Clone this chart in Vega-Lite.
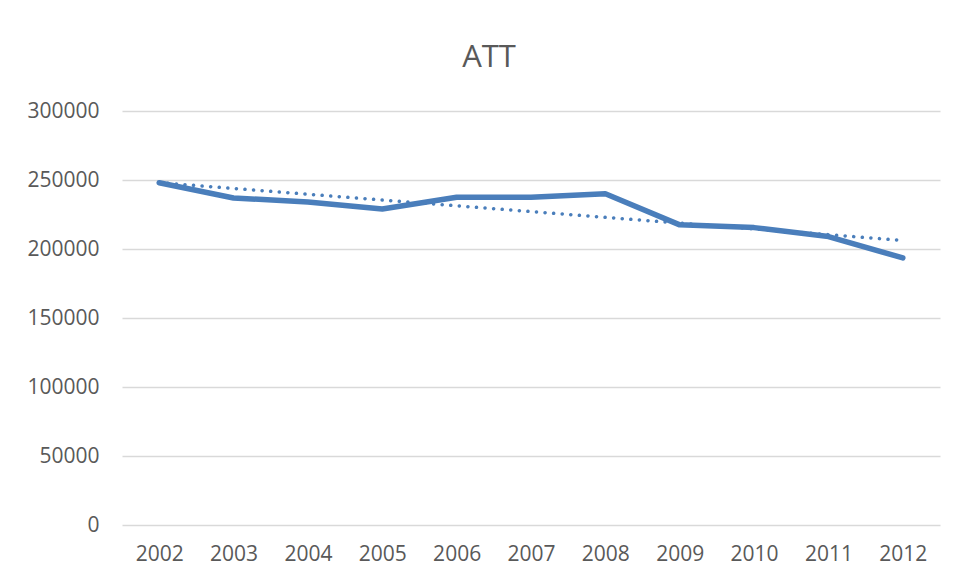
{
  "$schema": "https://vega.github.io/schema/vega-lite/v6.json",
  "width": 818,
  "height": 414,
  "autosize": {"type": "none"},
  "padding": {"left": 122, "top": 111, "right": 17, "bottom": 55},
  "background": "white",
  "title": {
    "text": "ATT",
    "fontSize": 31,
    "font": "Open Sans",
    "fontWeight": "normal",
    "color": "#595959",
    "anchor": "middle",
    "frame": "group",
    "baseline": "alphabetic",
    "offset": 2,
    "dx": -42
  },
  "data": {
    "values": [
      {"year": 2002, "value": 248000},
      {"year": 2003, "value": 237000},
      {"year": 2004, "value": 234000},
      {"year": 2005, "value": 229000},
      {"year": 2006, "value": 237500},
      {"year": 2007, "value": 237500},
      {"year": 2008, "value": 240000},
      {"year": 2009, "value": 217500},
      {"year": 2010, "value": 215500},
      {"year": 2011, "value": 209000},
      {"year": 2012, "value": 193500}
    ]
  },
  "encoding": {
    "x": {
      "field": "year",
      "type": "ordinal",
      "scale": {"type": "point", "padding": 0.5, "domain": [2002, 2003, 2004, 2005, 2006, 2007, 2008, 2009, 2010, 2011, 2012]},
      "axis": {
        "title": null,
        "labelAngle": 0,
        "domain": false,
        "ticks": false,
        "grid": false,
        "labelPadding": 18,
        "labelFontSize": 21,
        "labelFont": "Open Sans",
        "labelColor": "#595959"
      }
    },
    "y": {
      "field": "value",
      "type": "quantitative",
      "scale": {"domain": [0, 300000], "nice": false},
      "axis": {
        "title": null,
        "values": [0, 50000, 100000, 150000, 200000, 250000, 300000],
        "format": "d",
        "domain": false,
        "ticks": false,
        "grid": true,
        "gridColor": "#d9d9d9",
        "gridWidth": 1.5,
        "labelPadding": 23,
        "labelFontSize": 21,
        "labelFont": "Open Sans",
        "labelColor": "#595959"
      }
    }
  },
  "layer": [
    {
      "mark": {"type": "line", "color": "#4a7ebb", "strokeWidth": 5.5, "strokeCap": "round", "strokeJoin": "round"}
    },
    {
      "transform": [{"regression": "value", "on": "year", "method": "linear"}],
      "mark": {"type": "line", "color": "#4a7ebb", "strokeWidth": 3.5, "strokeCap": "round", "strokeDash": [0.1, 8.5]}
    }
  ],
  "config": {"view": {"stroke": null}}
}
